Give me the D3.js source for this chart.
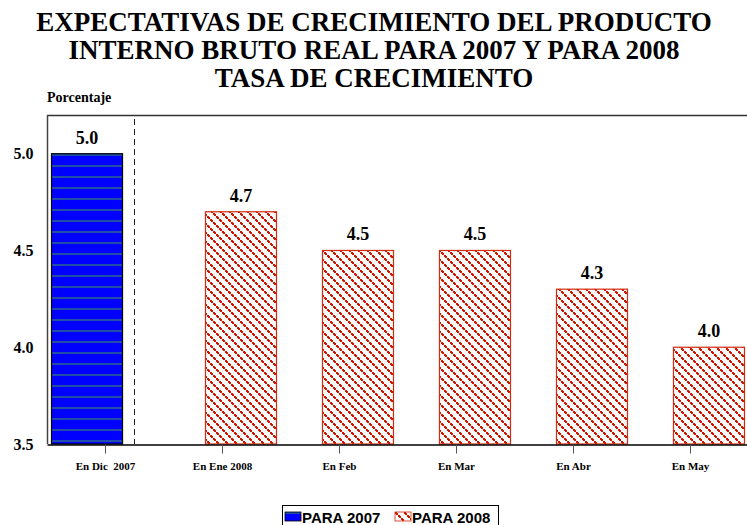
<!DOCTYPE html>
<html>
<head>
<meta charset="utf-8">
<script src="https://cdn.jsdelivr.net/npm/d3@7"></script>
<style>
  body { margin: 0; background: #fff; }
  svg { display: block; }
  .serif { font-family: "Liberation Serif", "DejaVu Serif", serif; font-weight: bold; }
</style>
</head>
<body>
<div id="chart"></div>
<script>
// Chart data
var titleLines = ["EXPECTATIVAS DE CRECIMIENTO DEL PRODUCTO",
                  "INTERNO BRUTO REAL PARA 2007 Y PARA 2008",
                  "TASA DE CRECIMIENTO"];
var categories = ["En Dic  2007", "En Ene 2008", "En Feb", "En Mar", "En Abr", "En May"];
var series = ["PARA 2007", "PARA 2008"];
var values2007 = [5.0, null, null, null, null, null];
var values2008 = [null, 4.7, 4.5, 4.5, 4.3, 4.0];
var yTicks = [3.5, 4.0, 4.5, 5.0];

var W = 747, H = 525;
var M = {left: 47, top: 115, right: 749, bottom: 444};

var svg = d3.select("#chart").append("svg")
	.attr("width", W)
	.attr("height", H);

var defs = svg.append("defs");

// blue bar with darker horizontal stripes
var pBlue = defs.append("pattern")
	.attr("id", "p2007")
	.attr("patternUnits", "userSpaceOnUse")
	.attr("width", 8).attr("height", 11);
pBlue.append("rect").attr("width", 8).attr("height", 11).attr("fill", "#0000ff");
pBlue.append("rect").attr("y", 0).attr("width", 8).attr("height", 2).attr("fill", "#1f4fa6");

// red stair-step diagonal hatch
var pRed = defs.append("pattern")
	.attr("id", "p2008")
	.attr("patternUnits", "userSpaceOnUse")
	.attr("width", 9).attr("height", 9);
pRed.append("rect").attr("width", 9).attr("height", 9).attr("fill", "#fbfbfb");
[0, 3, 6].forEach(function(k) {
	pRed.append("rect").attr("x", k).attr("y", k).attr("width", 2).attr("height", 2).attr("fill", "#cc1800");
	pRed.append("rect").attr("x", k + 1).attr("y", k + 1).attr("width", 2).attr("height", 2).attr("fill", "#cc1800");
});

// Scales
var x = d3.scaleBand().domain(categories).range([M.left, M.right]);
var xs = d3.scalePoint().domain(series).range([-x.bandwidth() * 0.158, x.bandwidth() * 0.158]);
var barW = x.bandwidth() * 0.607;
var y = d3.scaleLinear().domain([3.5, 5.2]).range([M.bottom, M.top]);

// Title
svg.append("g").selectAll("text")
	.data(titleLines)
	.enter()
	.append("text")
	.attr("class", "serif")
	.attr("x", 374)
	.attr("y", function(d, i) { return 31 + i * 28; })
	.attr("text-anchor", "middle")
	.attr("font-size", 27)
	.text(function(d) { return d; });

svg.append("text")
	.attr("class", "serif")
	.attr("x", 47).attr("y", 102)
	.attr("font-size", 14)
	.text("Porcentaje");

// top frame line
svg.append("line")
	.attr("x1", M.left).attr("x2", W)
	.attr("y1", M.top + 0.5).attr("y2", M.top + 0.5)
	.attr("stroke", "#333").attr("stroke-width", 1.5);

// Bars
var bars = [];
categories.forEach(function(c, i) {
	if (values2007[i] != null) bars.push({cat: c, s: series[0], v: values2007[i]});
	if (values2008[i] != null) bars.push({cat: c, s: series[1], v: values2008[i]});
});

var barG = svg.append("g");
barG.selectAll("rect")
	.data(bars)
	.enter()
	.append("rect")
	.attr("x", function(d) { return x(d.cat) + x.bandwidth() / 2 + xs(d.s) - barW / 2; })
	.attr("y", function(d) { return y(d.v); })
	.attr("width", barW)
	.attr("height", function(d) { return y(3.5) - y(d.v); })
	.attr("fill", function(d) { return d.s == series[0] ? "url(#p2007)" : "url(#p2008)"; })
	.attr("stroke", function(d) { return d.s == series[0] ? "#000" : "#d42a10"; })
	.attr("stroke-width", 1.2);

barG.selectAll("text")
	.data(bars)
	.enter()
	.append("text")
	.attr("class", "serif")
	.attr("x", function(d) { return x(d.cat) + x.bandwidth() / 2 + xs(d.s); })
	.attr("y", function(d) { return y(d.v) - 10; })
	.attr("text-anchor", "middle")
	.attr("font-size", 18)
	.text(function(d) { return d.v.toFixed(1); });

// Dashed separator
svg.append("line")
	.attr("x1", 134.5).attr("x2", 134.5)
	.attr("y1", M.top + 4).attr("y2", M.bottom)
	.attr("stroke", "#222").attr("stroke-width", 1)
	.attr("stroke-dasharray", "6,4");

// Y axis
var yAxis = svg.append("g")
	.attr("transform", "translate(" + (M.left + 0.5) + ",0)")
	.call(d3.axisLeft(y).tickValues(yTicks).tickSize(0).tickPadding(14).tickFormat(d3.format(".1f")));
yAxis.select(".domain").attr("d", "M0," + M.top + "V" + M.bottom).attr("stroke", "#444").attr("stroke-width", 1.5);
yAxis.selectAll("text")
	.attr("class", "serif")
	.attr("font-size", 16)
	.attr("fill", "#000");

// X axis
var xAxis = svg.append("g")
	.attr("transform", "translate(0," + (M.bottom + 0.5) + ")")
	.call(d3.axisBottom(x).tickSizeInner(9).tickSizeOuter(0).tickPadding(9));
xAxis.select(".domain").attr("stroke", "#000").attr("stroke-width", 1.5);
xAxis.selectAll(".tick line").attr("stroke", "#555");
xAxis.selectAll("text")
	.attr("class", "serif")
	.attr("font-size", 11)
	.attr("fill", "#000")
	.style("white-space", "pre");

// Legend
var lg = svg.append("g").attr("transform", "translate(282,505)");
lg.append("rect")
	.attr("x", 0.5).attr("y", 0.5)
	.attr("width", 216).attr("height", 26)
	.attr("fill", "#fff").attr("stroke", "#000");
var legItems = lg.selectAll(".li")
	.data(series)
	.enter()
	.append("g")
	.attr("transform", function(d, i) { return "translate(" + (3 + i * 110) + ",7)"; });
legItems.append("rect")
	.attr("width", 16).attr("height", 9)
	.attr("fill", function(d, i) { return i == 0 ? "url(#p2007)" : "url(#p2008)"; })
	.attr("stroke", function(d, i) { return i == 0 ? "#000" : "#d42a10"; })
	.attr("stroke-width", 0.8);
legItems.append("text")
	.attr("x", 17).attr("y", 11)
	.attr("font-family", "'Liberation Sans', Arial, sans-serif")
	.attr("font-weight", "bold")
	.attr("font-size", 15)
	.text(function(d) { return d; });
</script>
</body>
</html>
